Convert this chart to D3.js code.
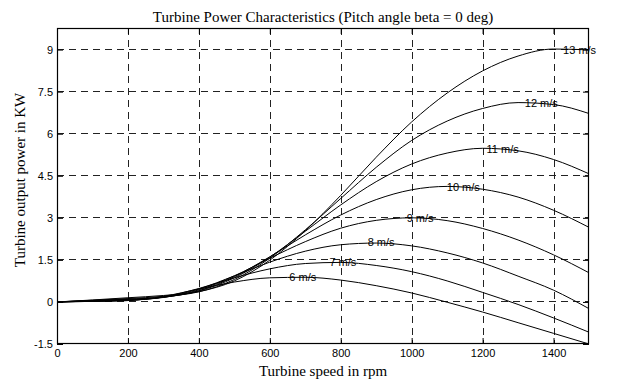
<!DOCTYPE html>
<html><head><meta charset="utf-8">
<script src="https://cdn.jsdelivr.net/npm/d3@7"></script>
<style>body{margin:0;background:#fff}svg{display:block}</style>
</head><body><svg id="c" width="620" height="383"></svg>
<script>
// ---- data ----
const speedRpm = [0,100,200,300,400,500,600,700,800,900,1000,1100,1200,1300,1400,1500];
const windLabels = ["6 m/s","7 m/s","8 m/s","9 m/s","10 m/s","11 m/s","12 m/s","13 m/s"];
const power6  = [0,0.02,0.05,0.20,0.46,0.71,0.86,0.88,0.78,0.58,0.32,-0.01,-0.36,-0.74,-1.12,-1.50];
const power7  = [0,0.02,0.05,0.18,0.48,0.86,1.18,1.37,1.41,1.30,1.08,0.75,0.34,-0.09,-0.57,-1.08];
const power8  = [0,0.03,0.06,0.17,0.46,0.93,1.42,1.81,2.04,2.10,2.00,1.75,1.39,0.92,0.42,-0.24];
const power9  = [0,0.03,0.07,0.16,0.43,0.93,1.56,2.15,2.63,2.91,3.00,2.90,2.62,2.21,1.68,1.04];
const power10 = [0,0.04,0.09,0.17,0.40,0.90,1.61,2.39,3.10,3.65,4.00,4.12,4.02,3.74,3.27,2.66];
const power11 = [0,0.05,0.10,0.17,0.39,0.86,1.60,2.52,3.46,4.29,4.92,5.31,5.48,5.39,5.08,4.57];
const power12 = [0,0.06,0.12,0.20,0.36,0.80,1.56,2.57,3.69,4.80,5.76,6.45,6.90,7.11,7.04,6.72];
const power13 = [0,0.07,0.15,0.23,0.37,0.75,1.49,2.54,3.80,5.16,6.42,7.45,8.24,8.77,9.02,8.99];
const labelRpm = [655,768,876,986,1099,1211,1319,1427];
const labelKw  = [0.88,1.41,2.12,2.98,4.11,5.45,7.10,8.98];
const xTicks = [0,200,400,600,800,1000,1200,1400];
const yTicks = [-1.5,0,1.5,3,4.5,6,7.5,9];
const titleText = "Turbine Power Characteristics (Pitch angle beta = 0 deg)";
const xTitle = "Turbine speed in rpm";
const yTitle = "Turbine output power in KW";

const series = [power6,power7,power8,power9,power10,power11,power12,power13];

// ---- layout ----
const L = 57, R = 589, T = 28, B = 344;
const svg = d3.select("#c");
svg.append("rect").attr("width",620).attr("height",383).attr("fill","#fff");

const x = d3.scaleLinear().domain([0,1500]).range([L,R]);
const y = d3.scaleLinear().domain([-1.5,9.77]).range([B,T]);

const sans = "'Liberation Sans', Arial, Helvetica, sans-serif";
const serif = "'Liberation Serif', 'Times New Roman', serif";

// grid
const grid = svg.append("g").attr("stroke","#222").attr("stroke-width",1)
  .attr("stroke-dasharray","7,5").attr("fill","none");
grid.selectAll("line.v").data(xTicks.filter(d=>d>0)).join("line")
  .attr("x1",d=>Math.round(x(d))+0.5).attr("x2",d=>Math.round(x(d))+0.5)
  .attr("y1",T).attr("y2",B);
grid.selectAll("line.h").data(yTicks).join("line")
  .attr("y1",d=>Math.round(y(d))-0.5).attr("y2",d=>Math.round(y(d))-0.5)
  .attr("x1",L).attr("x2",R);

// curves
svg.append("clipPath").attr("id","clip").append("rect")
  .attr("x",L).attr("y",T).attr("width",R-L).attr("height",B-T+1);
const line = d3.line().x((d,i)=>x(speedRpm[i])).y(d=>y(d)).curve(d3.curveMonotoneX);
svg.append("g").attr("clip-path","url(#clip)")
  .selectAll("path").data(series).join("path")
  .attr("d",line).attr("fill","none").attr("stroke","#000").attr("stroke-width",1);

// axes
function styleAxis(g){
  g.select(".domain").remove();
  g.selectAll(".tick line").attr("stroke","#000");
  g.selectAll("text").attr("font-family",sans).attr("font-size",11).attr("fill","#000");
}
svg.append("g").attr("transform",`translate(0,${B})`)
  .call(d3.axisBottom(x).tickValues(xTicks).tickSize(-6).tickPadding(5).tickFormat(d=>String(d)))
  .call(styleAxis);
svg.append("g").attr("transform",`translate(0,${T})`)
  .call(d3.axisTop(x).tickValues(xTicks).tickSize(-6).tickFormat(""))
  .call(styleAxis);
svg.append("g").attr("transform",`translate(${L},0)`)
  .call(d3.axisLeft(y).tickValues(yTicks).tickSize(-6).tickPadding(4).tickFormat(d=>String(d)))
  .call(styleAxis);
svg.append("g").attr("transform",`translate(${R},0)`)
  .call(d3.axisRight(y).tickValues(yTicks).tickSize(-6).tickFormat(""))
  .call(styleAxis);

// frame
svg.append("rect").attr("x",L+0.5).attr("y",T+0.5).attr("width",R-L-1).attr("height",B-T-1)
  .attr("fill","none").attr("stroke","#000").attr("stroke-width",1.2);

// curve labels
svg.append("g").selectAll("text").data(windLabels).join("text")
  .attr("x",(d,i)=>x(labelRpm[i])).attr("y",(d,i)=>y(labelKw[i]))
  .attr("dy","0.35em").attr("font-family",sans).attr("font-size",11).attr("fill","#000")
  .text(d=>d);

// titles
svg.append("text").attr("x",(L+R)/2).attr("y",22).attr("text-anchor","middle")
  .attr("font-family",serif).attr("font-size",15).text(titleText);
svg.append("text").attr("x",(L+R)/2).attr("y",376).attr("text-anchor","middle")
  .attr("font-family",serif).attr("font-size",15).text(xTitle);
svg.append("text").attr("transform",`translate(25,180) rotate(-90)`).attr("text-anchor","middle")
  .attr("font-family",serif).attr("font-size",15).text(yTitle);
</script></body></html>
